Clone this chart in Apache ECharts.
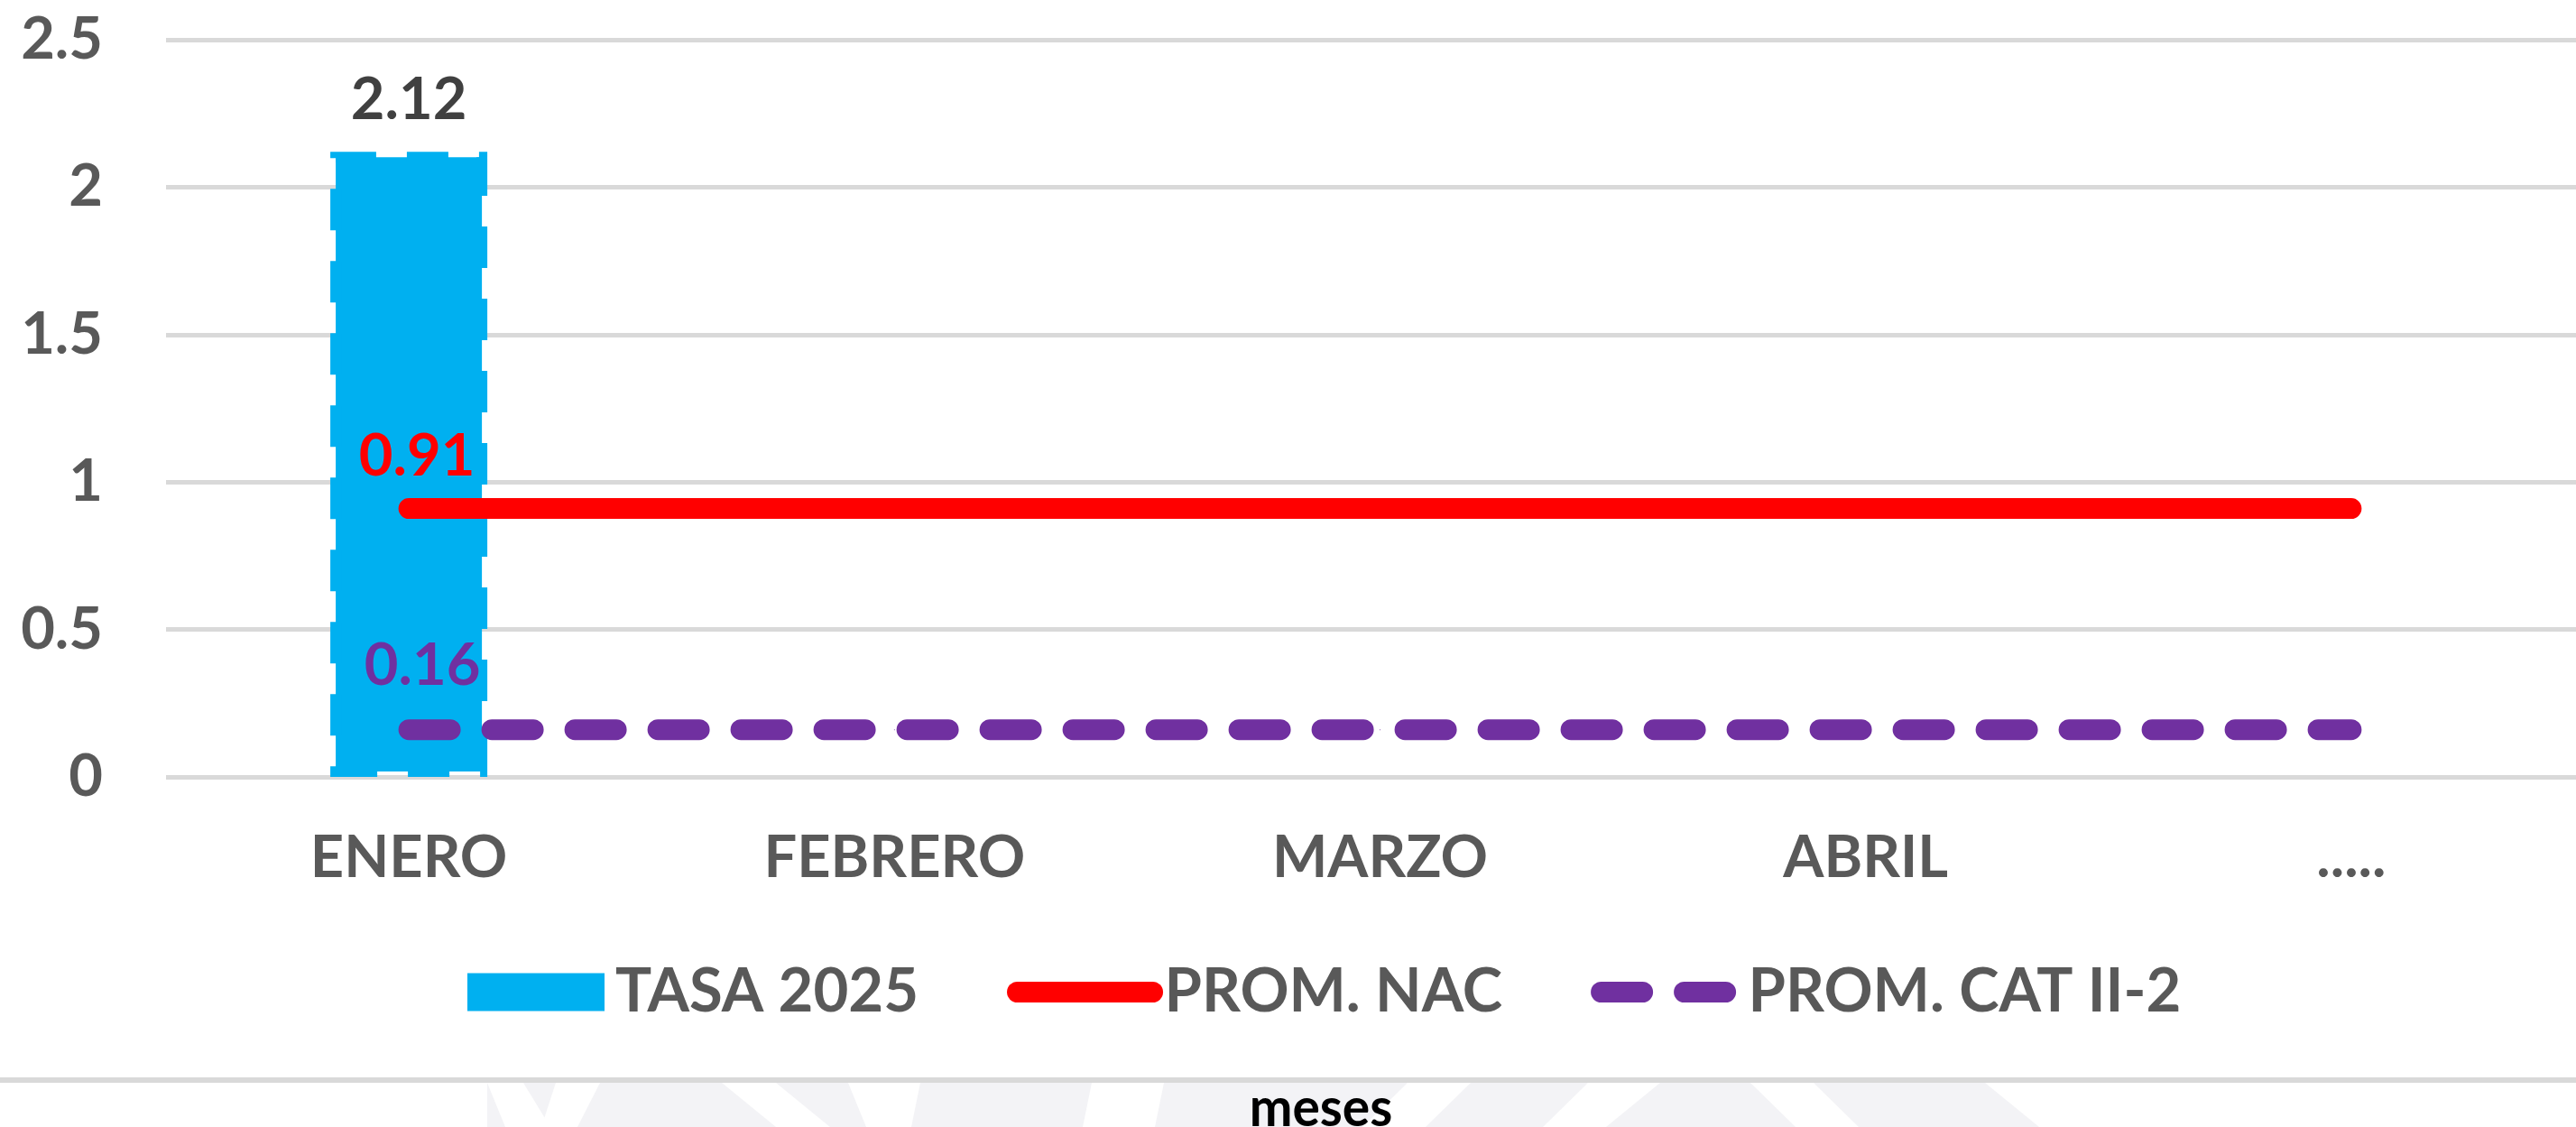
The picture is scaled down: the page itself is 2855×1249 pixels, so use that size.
<!DOCTYPE html>
<html>
<head>
<meta charset="utf-8">
<script src="https://cdn.jsdelivr.net/npm/echarts@6/dist/echarts.min.js"></script>
<style>
  html, body { margin: 0; padding: 0; background: #fff; }
  #chart { width: 2855px; height: 1249px; }
</style>
</head>
<body>
<div id="chart"></div>
<script>
const months = ['ENERO', 'FEBRERO', 'MARZO', 'ABRIL', '.....']
const tasa2025 = [2.12, null, null, null, null]
const promNac = [0.91, 0.91, 0.91, 0.91, 0.91]
const promCat = [0.16, 0.16, 0.16, 0.16, 0.16]
const seriesNames = ['TASA 2025', 'PROM. NAC', 'PROM. CAT II-2']

const FONT = 'Lato'
const GREY = '#595959'

const chart = echarts.init(document.getElementById('chart'))

// only the first point of each average line carries a label
const withFirstLabel = (arr, opts) => arr.map((v, i) => i === 0 ? { value: v, label: Object.assign({ show: true }, opts) } : v)

const option = {
  backgroundColor: '#ffffff',
  animation: false,
  grid: { left: 184, width: 2691, top: 44, bottom: 388, containLabel: false, outerBoundsMode: 'none' },
  xAxis: {
    type: 'category',
    data: months,
    axisLine: { show: false },
    axisTick: { show: false },
    axisLabel: { color: GREY, fontFamily: FONT, fontWeight: 'bold', fontSize: 65, margin: 58 }
  },
  yAxis: {
    type: 'value',
    min: 0,
    max: 2.5,
    interval: 0.5,
    axisLine: { show: false },
    axisTick: { show: false },
    axisLabel: { color: GREY, fontFamily: FONT, fontWeight: 'bold', fontSize: 65, margin: 70 },
    splitLine: { lineStyle: { color: '#d9d9d9', width: 5 } }
  },
  legend: {
    left: 513,
    top: 1061,
    itemWidth: 150,
    itemHeight: 40,
    itemGap: 98,
    textStyle: { color: GREY, fontFamily: FONT, fontWeight: 'bold', fontSize: 67, padding: [0, 0, 0, 8] },
    lineStyle: { width: 'inherit' },
    data: [
      { name: seriesNames[0], icon: 'rect' },
      { name: seriesNames[1], itemStyle: { color: 'rgba(0,0,0,0)', borderWidth: 0 } },
      { name: seriesNames[2], itemStyle: { color: 'rgba(0,0,0,0)', borderWidth: 0 } }
    ]
  },
  series: [
    {
      name: seriesNames[0],
      type: 'bar',
      data: tasa2025,
      barWidth: 174,
      itemStyle: { color: '#00b0f0', borderColor: '#00b0f0', borderWidth: 12, borderType: [46, 34] },
      label: {
        show: true,
        position: 'top',
        distance: 25,
        color: '#404040',
        fontFamily: FONT,
        fontWeight: 'bold',
        fontSize: 65
      },
      z: 1
    },
    {
      name: seriesNames[1],
      type: 'line',
      data: withFirstLabel(promNac, { position: 'top', distance: 25, offset: [9, 0] }),
      symbol: 'circle',
      symbolSize: 1,
      itemStyle: { color: '#ff0000' },
      lineStyle: { color: '#ff0000', width: 23, cap: 'round' },
      label: { show: false, color: '#ff0000', fontFamily: FONT, fontWeight: 'bold', fontSize: 65 },
      z: 3
    },
    {
      name: seriesNames[2],
      type: 'line',
      data: withFirstLabel(promCat, { position: 'top', distance: 38, offset: [15, 0] }),
      symbol: 'circle',
      symbolSize: 1,
      itemStyle: { color: '#7030a0' },
      lineStyle: { color: '#7030a0', width: 23, cap: 'round', type: [46, 46] },
      label: { show: false, color: '#7030a0', fontFamily: FONT, fontWeight: 'bold', fontSize: 65 },
      z: 3
    }
  ],
  graphic: [
    // faint watermark strip along the bottom
    { type: 'rect', silent: true, shape: { x: 540, y: 1200, width: 1800, height: 49 }, style: { fill: '#f3f3f6' } },
    { type: 'polygon', silent: true, shape: { points: [[540, 1200], [580, 1200], [610, 1249], [560, 1249]] }, style: { fill: '#ffffff' } },
    { type: 'polygon', silent: true, shape: { points: [[616, 1200], [665, 1200], [640, 1249], [600, 1249]] }, style: { fill: '#ffffff' } },
    { type: 'polygon', silent: true, shape: { points: [[800, 1200], [860, 1200], [920, 1249], [860, 1249]] }, style: { fill: '#ffffff' } },
    { type: 'polygon', silent: true, shape: { points: [[940, 1200], [1020, 1200], [1010, 1249], [960, 1249]] }, style: { fill: '#ffffff' } },
    { type: 'polygon', silent: true, shape: { points: [[1210, 1200], [1290, 1200], [1280, 1249], [1200, 1249]] }, style: { fill: '#ffffff' } },
    { type: 'polygon', silent: true, shape: { points: [[1560, 1200], [1630, 1200], [1580, 1249], [1510, 1249]] }, style: { fill: '#ffffff' } },
    { type: 'polygon', silent: true, shape: { points: [[1760, 1200], [1840, 1200], [1780, 1249], [1710, 1249]] }, style: { fill: '#ffffff' } },
    { type: 'polygon', silent: true, shape: { points: [[1940, 1200], [2010, 1200], [2060, 1249], [1990, 1249]] }, style: { fill: '#ffffff' } },
    { type: 'polygon', silent: true, shape: { points: [[2200, 1200], [2340, 1200], [2340, 1249], [2260, 1249]] }, style: { fill: '#ffffff' } },
    { type: 'line', silent: true, shape: { x1: 0, y1: 1197, x2: 2855, y2: 1197 }, style: { stroke: '#d9d9d9', lineWidth: 6 } },
    {
      type: 'text',
      silent: true,
      x: 1464,
      y: 1229,
      scaleX: 0.95,
      style: { text: 'meses', fill: '#000000', font: 'bold 60px Lato', align: 'center', verticalAlign: 'middle' }
    }
  ]
}

chart.setOption(option)
</script>
</body>
</html>
